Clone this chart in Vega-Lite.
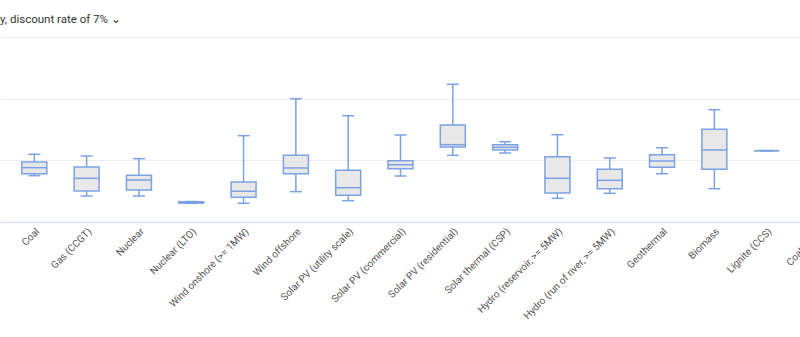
{
  "$schema": "https://vega.github.io/schema/vega-lite/v6.json",
  "width": 800,
  "height": 185,
  "autosize": {"type": "none"},
  "padding": {"left": 0, "top": 37, "right": 0, "bottom": 115},
  "title": {"text": "y, discount rate of  7%  ⌄", "anchor": "start", "frame": "group", "fontSize": 11.5, "font": "Roboto", "fontWeight": "normal", "color": "#333333", "offset": 12},
  "config": {
    "view": {"stroke": null},
    "axis": {"labelFont": "Roboto", "titleFont": "Roboto"}
  },
  "data": {
    "values": [
      {"tech": "Coal", "min": 75.1, "q1": 78.3, "median": 88.1, "q3": 97.3, "max": 109.8},
      {"tech": "Gas (CCGT)", "min": 42.2, "q1": 50.3, "median": 70.8, "q3": 89.2, "max": 107.0},
      {"tech": "Nuclear", "min": 42.2, "q1": 51.9, "median": 68.1, "q3": 75.7, "max": 102.7},
      {"tech": "Nuclear (LTO)", "min": 30.4, "q1": 30.7, "median": 31.9, "q3": 32.9, "max": 33.2},
      {"tech": "Wind onshore (>= 1MW)", "min": 30.3, "q1": 40.0, "median": 49.7, "q3": 64.9, "max": 140.0},
      {"tech": "Wind offshore", "min": 49.2, "q1": 78.3, "median": 87.6, "q3": 108.1, "max": 200.0},
      {"tech": "Solar PV (utility scale)", "min": 34.6, "q1": 43.2, "median": 55.6, "q3": 83.8, "max": 172.4},
      {"tech": "Solar PV (commercial)", "min": 74.6, "q1": 86.5, "median": 92.9, "q3": 99.5, "max": 141.1},
      {"tech": "Solar PV (residential)", "min": 108.1, "q1": 121.6, "median": 125.4, "q3": 157.3, "max": 223.3},
      {"tech": "Solar thermal (CSP)", "min": 111.9, "q1": 116.8, "median": 121.1, "q3": 125.4, "max": 130.2},
      {"tech": "Hydro (reservoir, >= 5MW)", "min": 38.4, "q1": 47.0, "median": 70.8, "q3": 105.9, "max": 141.6},
      {"tech": "Hydro (run of river, >= 5MW)", "min": 46.5, "q1": 54.1, "median": 67.6, "q3": 85.4, "max": 103.8},
      {"tech": "Geothermal", "min": 78.3, "q1": 88.7, "median": 98.9, "q3": 109.1, "max": 120.5},
      {"tech": "Biomass", "min": 54.0, "q1": 85.4, "median": 116.8, "q3": 150.3, "max": 182.1},
      {"tech": "Lignite (CCS)", "min": 115.7, "q1": 115.7, "median": 115.7, "q3": 115.7, "max": 115.7}
    ]
  },
  "encoding": {
    "x": {
      "field": "tech",
      "type": "nominal",
      "scale": {
        "domain": ["Coal", "Gas (CCGT)", "Nuclear", "Nuclear (LTO)", "Wind onshore (>= 1MW)", "Wind offshore", "Solar PV (utility scale)", "Solar PV (commercial)", "Solar PV (residential)", "Solar thermal (CSP)", "Hydro (reservoir, >= 5MW)", "Hydro (run of river, >= 5MW)", "Geothermal", "Biomass", "Lignite (CCS)", "Coal (CCS)"],
        "range": [0, 853.3],
        "paddingInner": 0,
        "paddingOuter": 0.156
      },
      "axis": {
        "title": null,
        "labelAngle": -45,
        "labelFontSize": 10,
        "labelColor": "#555555",
        "labelPadding": 4,
        "ticks": false,
        "domain": true,
        "domainColor": "#dbe2ee",
        "domainWidth": 1.5,
        "grid": false
      }
    }
  },
  "layer": [
    {
      "mark": {"type": "rule", "color": "#7ba2e2", "strokeWidth": 1.5},
      "encoding": {
        "y": {
          "field": "min",
          "type": "quantitative",
          "scale": {"domain": [0, 300], "nice": false},
          "axis": {"title": null, "labels": false, "ticks": false, "domain": false, "grid": true, "gridColor": "#ececec", "values": [100, 200, 300]}
        },
        "y2": {"field": "max"}
      }
    },
    {
      "mark": {"type": "bar", "size": 25, "fill": "#e8e8e8", "stroke": "#7ba2e2", "strokeWidth": 1.5},
      "encoding": {
        "y": {"field": "q1", "type": "quantitative"},
        "y2": {"field": "q3"}
      }
    },
    {
      "mark": {"type": "tick", "size": 25, "thickness": 1.5, "color": "#7ba2e2", "opacity": 1},
      "encoding": {"y": {"field": "median", "type": "quantitative"}}
    },
    {
      "mark": {"type": "tick", "size": 12, "thickness": 1.5, "color": "#7ba2e2", "opacity": 1},
      "encoding": {"y": {"field": "min", "type": "quantitative"}}
    },
    {
      "mark": {"type": "tick", "size": 12, "thickness": 1.5, "color": "#7ba2e2", "opacity": 1},
      "encoding": {"y": {"field": "max", "type": "quantitative"}}
    }
  ]
}
